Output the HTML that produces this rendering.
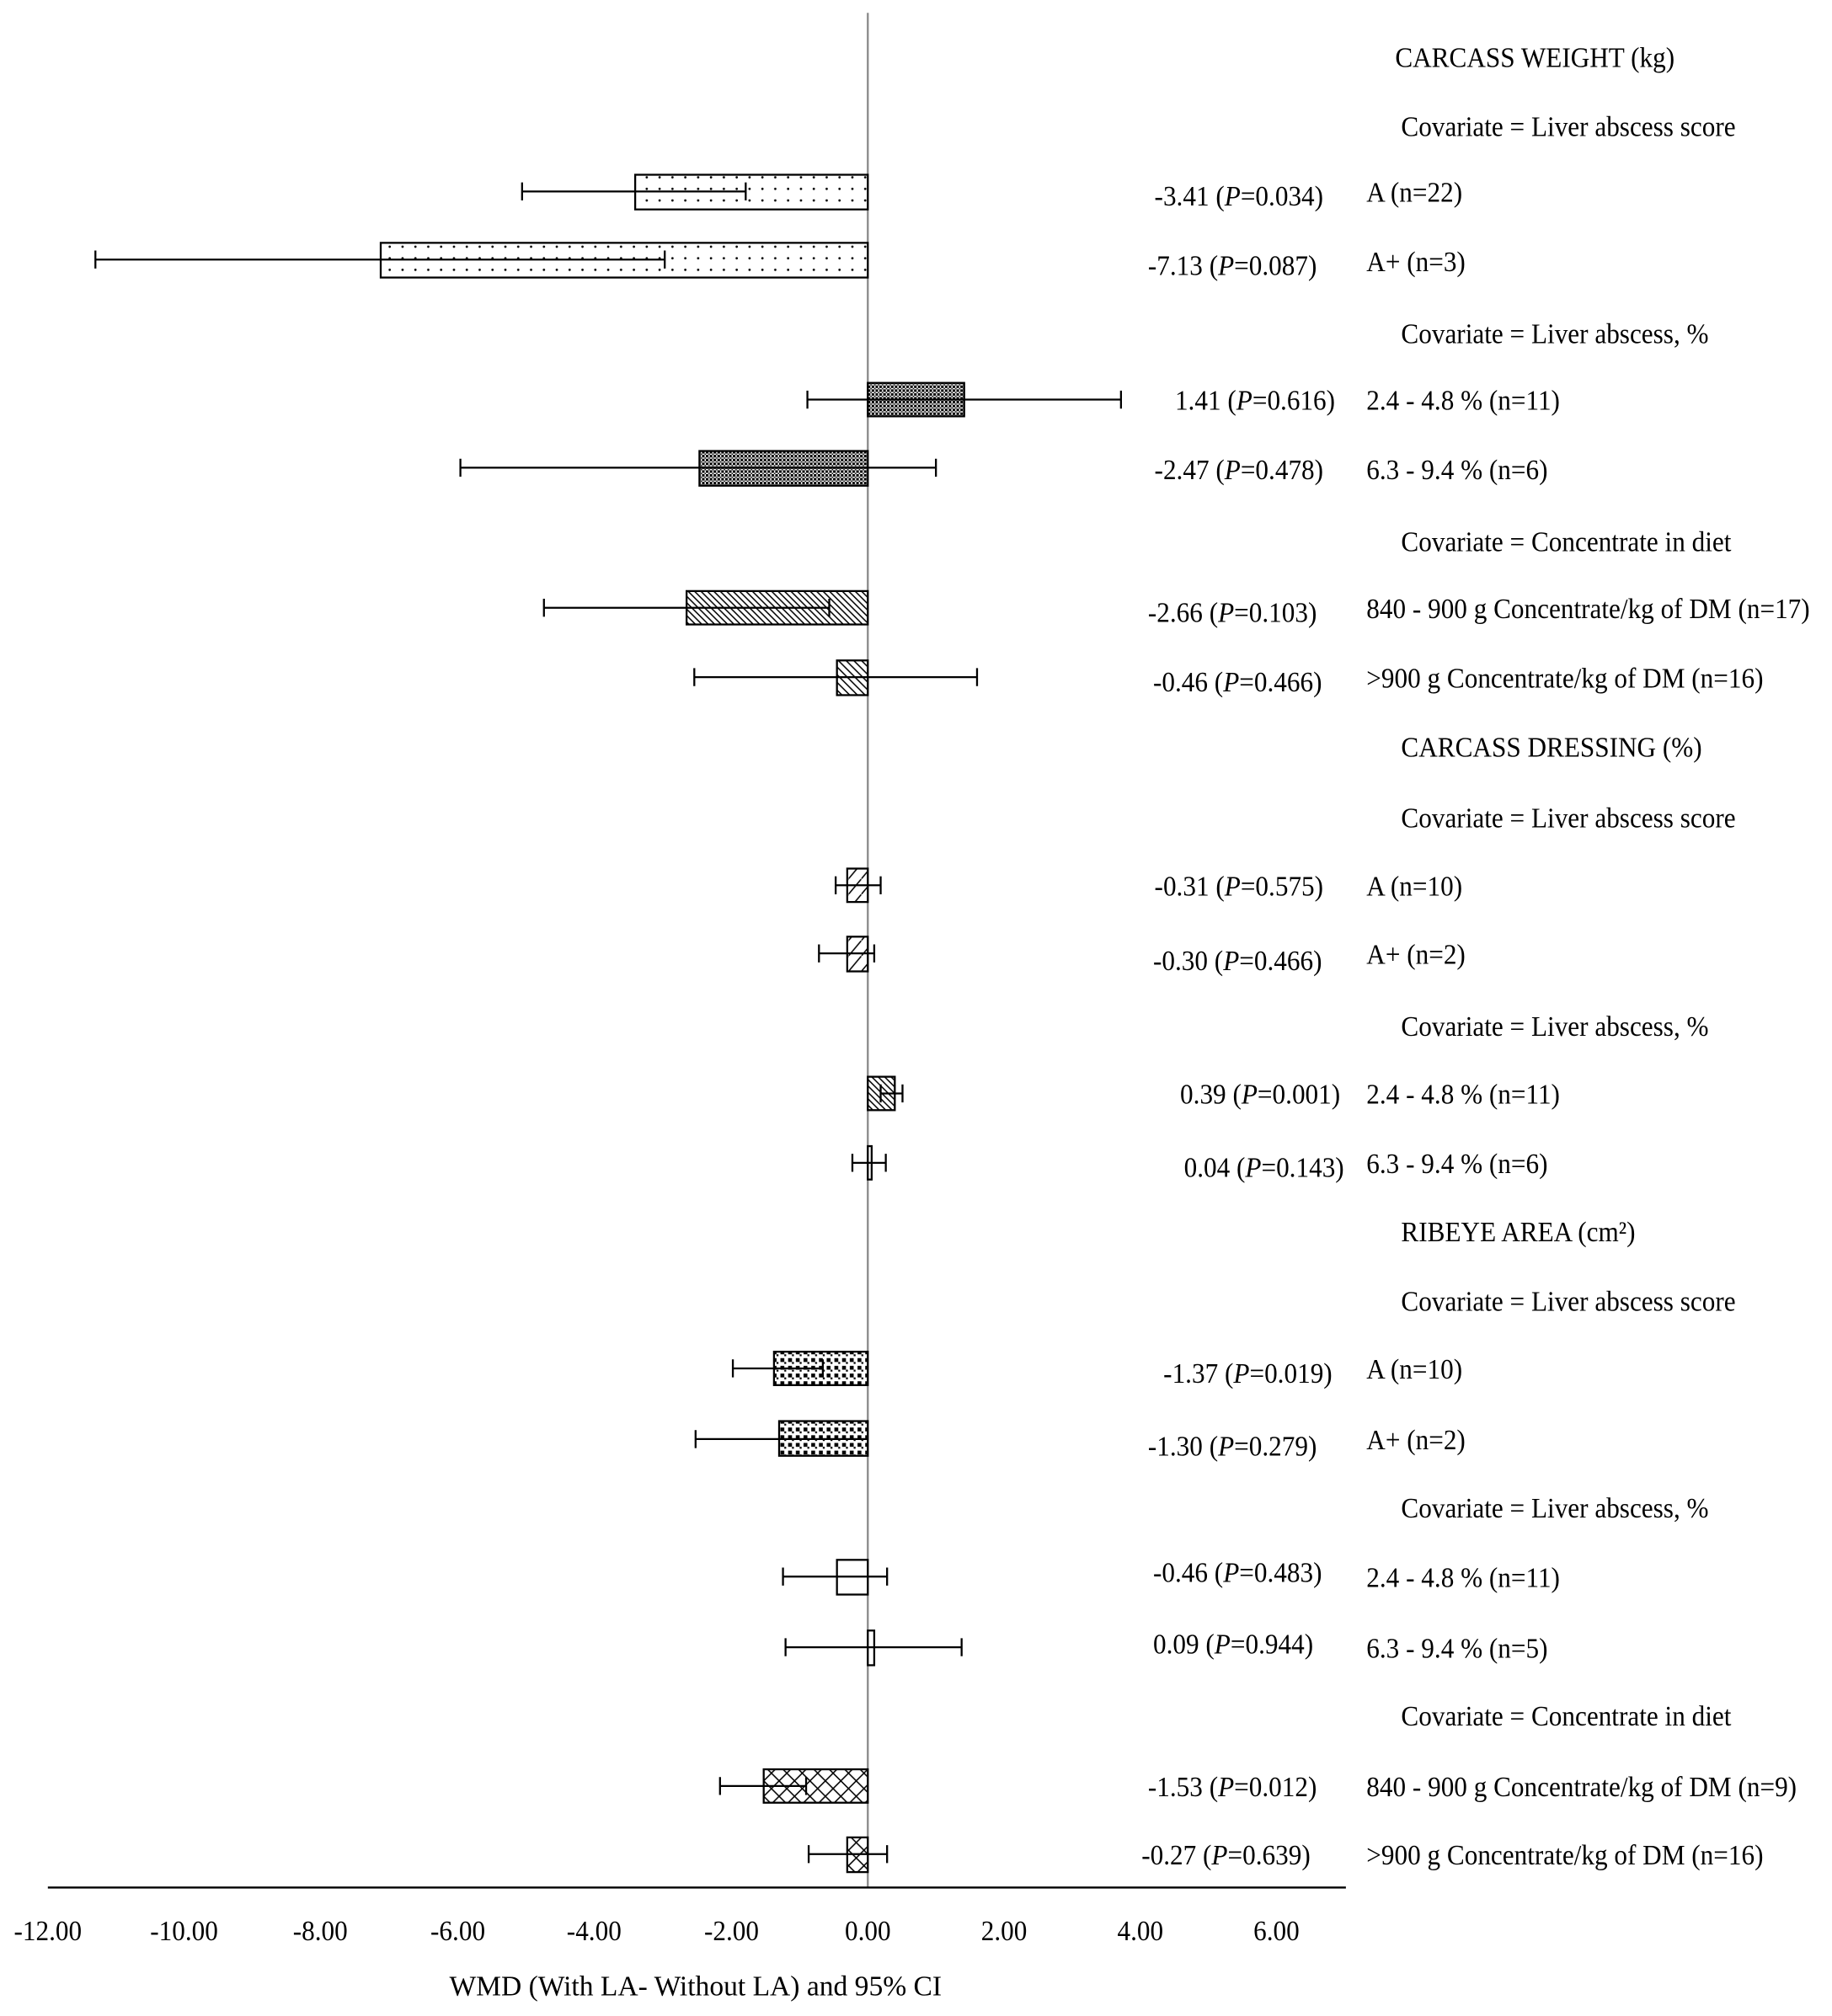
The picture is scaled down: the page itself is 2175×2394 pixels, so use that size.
<!DOCTYPE html>
<html><head><style>html,body{margin:0;padding:0;background:#fff}svg{display:block}</style></head>
<body>
<svg width="2175" height="2394" viewBox="0 0 1425 1569" xmlns="http://www.w3.org/2000/svg">
<defs>
<pattern id="dots" width="10" height="9" patternUnits="userSpaceOnUse"><rect width="10" height="9" fill="#fff"/><circle cx="3" cy="3" r="0.9" fill="#000"/></pattern>
<pattern id="dark" width="3" height="3" patternUnits="userSpaceOnUse"><rect width="3" height="3" fill="#fff"/><rect width="2" height="2" fill="#000"/><rect x="2" y="2" width="1" height="1" fill="#000"/></pattern>
<pattern id="diag" width="5" height="5" patternUnits="userSpaceOnUse"><rect width="5" height="5" fill="#fff"/><path d="M0,0 L5,5 M-1,4 L1,6 M4,-1 L6,1" stroke="#000" stroke-width="1"/></pattern>
<pattern id="diag2" width="6" height="6" patternUnits="userSpaceOnUse"><rect width="6" height="6" fill="#fff"/><path d="M0,0 L6,6 M-1,5 L1,7 M5,-1 L7,1" stroke="#000" stroke-width="1"/></pattern>
<pattern id="zz" width="10" height="12" patternUnits="userSpaceOnUse"><rect width="10" height="12" fill="#fff"/><path d="M0,12 L10,0" stroke="#000" stroke-width="1"/></pattern>
<pattern id="sq" width="6" height="6" patternUnits="userSpaceOnUse"><rect width="6" height="6" fill="#fff"/><rect x="1" y="1" width="3" height="3" fill="#000"/><rect x="4" y="4" width="1.5" height="1.5" fill="#000"/></pattern>
<pattern id="cross" width="12" height="12" patternUnits="userSpaceOnUse"><rect width="12" height="12" fill="#fff"/><path d="M0,0 L12,12 M12,0 L0,12" stroke="#000" stroke-width="1"/></pattern>
</defs>
<line x1="675" y1="10" x2="675" y2="1469" stroke="#888" stroke-width="1.5"/>
<line x1="37" y1="1469" x2="1047" y2="1469" stroke="#000" stroke-width="1.5"/>
<g stroke="#000" stroke-width="1.5">
<rect x="494" y="136" width="181" height="27" fill="url(#dots)"/>
<rect x="296" y="189" width="379" height="27" fill="url(#dots)"/>
<rect x="675" y="298" width="75" height="26" fill="url(#dark)"/>
<rect x="544" y="351" width="131" height="27" fill="url(#dark)"/>
<rect x="534" y="460" width="141" height="26" fill="url(#diag)"/>
<rect x="651" y="514" width="24" height="27" fill="url(#diag2)"/>
<rect x="659" y="676" width="16" height="26" fill="url(#zz)"/>
<rect x="659" y="729" width="16" height="27" fill="url(#zz)"/>
<rect x="675" y="838" width="21" height="26" fill="url(#diag)"/>
<rect x="675" y="892" width="3" height="26" fill="#fff"/>
<rect x="602" y="1052" width="73" height="26" fill="url(#sq)"/>
<rect x="606" y="1106" width="69" height="27" fill="url(#sq)"/>
<rect x="651" y="1214" width="24" height="27" fill="#fff"/>
<rect x="675" y="1269" width="5" height="27" fill="#fff"/>
<rect x="594" y="1377" width="81" height="26" fill="url(#cross)"/>
<rect x="659" y="1430" width="16" height="27" fill="url(#cross)"/>
</g>
<g stroke="#000" stroke-width="1.5" fill="none">
<path d="M406,149H580M406,142V156M580,142V156"/>
<path d="M74,202H517M74,195V209M517,195V209"/>
<path d="M628,311H872M628,304V318M872,304V318"/>
<path d="M358,364H728M358,357V371M728,357V371"/>
<path d="M423,473H645M423,466V480M645,466V480"/>
<path d="M540,527H760M540,520V534M760,520V534"/>
<path d="M650,689H685M650,682V696M685,682V696"/>
<path d="M637,742H680M637,735V749M680,735V749"/>
<path d="M685,851H702M685,844V858M702,844V858"/>
<path d="M663,905H689M663,898V912M689,898V912"/>
<path d="M570,1065H640M570,1058V1072M640,1058V1072"/>
<path d="M541,1120H675M541,1113V1127"/>
<path d="M609,1227H690M609,1220V1234M690,1220V1234"/>
<path d="M611,1282H748M611,1275V1289M748,1275V1289"/>
<path d="M560,1390H627M560,1383V1397M627,1383V1397"/>
<path d="M629,1443H690M629,1436V1450M690,1436V1450"/>
</g>
<text x="541" y="1553" text-anchor="middle" font-family="Liberation Serif, serif" font-size="22">WMD (With LA- Without LA) and 95% CI</text>
<g font-family="Liberation Serif, serif" font-size="22" fill="#000" transform="scale(0.93,1)">
<g text-anchor="middle">
<text x="39.8" y="1510">-12.00</text><text x="153.8" y="1510">-10.00</text><text x="267.7" y="1510">-8.00</text><text x="382.8" y="1510">-6.00</text><text x="496.8" y="1510">-4.00</text><text x="611.8" y="1510">-2.00</text><text x="725.8" y="1510">0.00</text><text x="839.8" y="1510">2.00</text><text x="953.8" y="1510">4.00</text><text x="1067.7" y="1510">6.00</text>
</g>
<text x="1167" y="52">CARCASS WEIGHT (kg)</text>
<text x="1172" y="106">Covariate = Liver abscess score</text>
<text x="1172" y="267">Covariate = Liver abscess, %</text>
<text x="1172" y="429">Covariate = Concentrate in diet</text>
<text x="1172" y="589">CARCASS DRESSING (%)</text>
<text x="1172" y="644">Covariate = Liver abscess score</text>
<text x="1172" y="806">Covariate = Liver abscess, %</text>
<text x="1172" y="966">RIBEYE AREA (cm²)</text>
<text x="1172" y="1020">Covariate = Liver abscess score</text>
<text x="1172" y="1181">Covariate = Liver abscess, %</text>
<text x="1172" y="1343">Covariate = Concentrate in diet</text>
<text x="1143" y="157">A (n=22)</text>
<text x="1143" y="211">A+ (n=3)</text>
<text x="1143" y="319">2.4 - 4.8 % (n=11)</text>
<text x="1143" y="373">6.3 - 9.4 % (n=6)</text>
<text x="1143" y="481">840 - 900 g Concentrate/kg of DM (n=17)</text>
<text x="1143" y="535">&gt;900 g Concentrate/kg of DM (n=16)</text>
<text x="1143" y="697">A (n=10)</text>
<text x="1143" y="750">A+ (n=2)</text>
<text x="1143" y="859">2.4 - 4.8 % (n=11)</text>
<text x="1143" y="913">6.3 - 9.4 % (n=6)</text>
<text x="1143" y="1073">A (n=10)</text>
<text x="1143" y="1128">A+ (n=2)</text>
<text x="1143" y="1235">2.4 - 4.8 % (n=11)</text>
<text x="1143" y="1290">6.3 - 9.4 % (n=5)</text>
<text x="1143" y="1398">840 - 900 g Concentrate/kg of DM (n=9)</text>
<text x="1143" y="1451">&gt;900 g Concentrate/kg of DM (n=16)</text>
<text x="965.6" y="160">-3.41 (<tspan font-style="italic">P</tspan>=0.034)</text>
<text x="960.2" y="214">-7.13 (<tspan font-style="italic">P</tspan>=0.087)</text>
<text x="982.8" y="319">1.41 (<tspan font-style="italic">P</tspan>=0.616)</text>
<text x="965.6" y="373">-2.47 (<tspan font-style="italic">P</tspan>=0.478)</text>
<text x="960.2" y="484">-2.66 (<tspan font-style="italic">P</tspan>=0.103)</text>
<text x="964.5" y="538">-0.46 (<tspan font-style="italic">P</tspan>=0.466)</text>
<text x="965.6" y="697">-0.31 (<tspan font-style="italic">P</tspan>=0.575)</text>
<text x="964.5" y="755">-0.30 (<tspan font-style="italic">P</tspan>=0.466)</text>
<text x="987.1" y="859">0.39 (<tspan font-style="italic">P</tspan>=0.001)</text>
<text x="990.3" y="916">0.04 (<tspan font-style="italic">P</tspan>=0.143)</text>
<text x="973.1" y="1076">-1.37 (<tspan font-style="italic">P</tspan>=0.019)</text>
<text x="960.2" y="1133">-1.30 (<tspan font-style="italic">P</tspan>=0.279)</text>
<text x="964.5" y="1231">-0.46 (<tspan font-style="italic">P</tspan>=0.483)</text>
<text x="964.5" y="1287">0.09 (<tspan font-style="italic">P</tspan>=0.944)</text>
<text x="960.2" y="1398">-1.53 (<tspan font-style="italic">P</tspan>=0.012)</text>
<text x="954.8" y="1451">-0.27 (<tspan font-style="italic">P</tspan>=0.639)</text>
</g>
</svg>
</body></html>
